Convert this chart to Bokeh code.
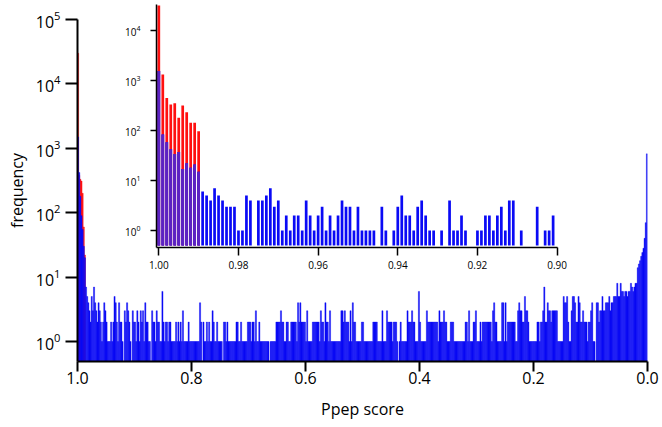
from bokeh.plotting import figure
from bokeh.models import Range1d, FixedTicker, NumeralTickFormatter
from bokeh.embed import file_html
from bokeh.resources import INLINE

# ---------------- data ----------------
# main histogram: bins of width 0.002, first bin centred at 0.999, going toward 0.0
main_bin = 0.002
main_first = 0.999
blue_k000 = [1500, 420, 180, 90, 55, 30, 20, 7, 5, 4,
             3, 2, 5, 3, 7, 4, 3, 2, 4, 3,
             2, 1, 2, 4, 3, 2, 1, 1, 1, 2,
             1, 2, 5, 4, 2, 1, 4, 2, 2, 1,
             0, 3, 2, 4, 3, 2, 1, 0, 3, 2]
blue_k050 = [2, 1, 3, 2, 1, 3, 2, 3, 1, 4,
             2, 2, 1, 1, 0, 3, 2, 2, 1, 3,
             2, 2, 1, 1, 6, 2, 1, 2, 2, 1,
             2, 2, 1, 1, 1, 1, 2, 1, 2, 1,
             2, 1, 3, 1, 1, 1, 1, 2, 1, 1]
blue_k100 = [1, 1, 1, 1, 1, 1, 1, 4, 2, 0,
             2, 1, 1, 2, 1, 2, 1, 1, 3, 2,
             1, 1, 2, 1, 1, 1, 1, 0, 2, 2,
             1, 2, 1, 1, 1, 1, 1, 1, 1, 2,
             2, 1, 1, 2, 1, 1, 1, 1, 1, 2]
blue_k150 = [2, 2, 1, 2, 2, 1, 3, 1, 1, 2,
             1, 1, 1, 1, 1, 1, 1, 1, 0, 1,
             1, 1, 1, 1, 2, 2, 2, 2, 3, 2,
             2, 1, 1, 2, 2, 1, 1, 2, 2, 2,
             2, 2, 1, 4, 2, 4, 2, 2, 2, 2]
blue_k200 = [1, 3, 1, 1, 1, 1, 2, 2, 2, 2,
             2, 2, 1, 3, 2, 2, 1, 4, 2, 2,
             1, 3, 1, 1, 1, 1, 1, 1, 1, 1,
             1, 3, 3, 2, 3, 2, 2, 2, 1, 3,
             1, 4, 2, 2, 1, 1, 1, 1, 1, 2]
blue_k250 = [2, 1, 1, 1, 1, 1, 1, 1, 1, 2,
             2, 2, 2, 1, 1, 1, 1, 3, 1, 1,
             1, 3, 2, 2, 2, 2, 1, 2, 2, 2,
             1, 0, 1, 2, 1, 1, 1, 1, 1, 3,
             2, 2, 2, 3, 2, 2, 1, 1, 1, 6]
blue_k300 = [2, 1, 1, 1, 1, 1, 3, 2, 2, 2,
             2, 2, 2, 2, 2, 2, 1, 3, 2, 2,
             2, 3, 2, 2, 1, 1, 1, 2, 2, 2,
             1, 1, 1, 1, 1, 1, 1, 1, 1, 1,
             2, 2, 1, 3, 1, 1, 1, 2, 2, 3]
blue_k350 = [1, 1, 1, 2, 1, 2, 2, 2, 2, 2,
             2, 2, 2, 1, 3, 4, 2, 2, 1, 1,
             1, 1, 4, 4, 1, 4, 1, 2, 2, 2,
             2, 2, 2, 2, 1, 1, 3, 4, 3, 3,
             2, 2, 5, 3, 3, 2, 1, 1, 1, 1]
blue_k400 = [1, 1, 1, 2, 2, 1, 2, 2, 3, 7,
             2, 2, 4, 3, 3, 2, 3, 3, 3, 3,
             3, 1, 1, 1, 1, 1, 5, 4, 4, 5,
             2, 1, 1, 3, 5, 5, 4, 2, 2, 5,
             4, 2, 2, 3, 2, 2, 2, 1, 2, 2]
blue_k450 = [3, 4, 1, 1, 0, 4, 4, 2, 3, 3,
             5, 3, 3, 4, 4, 4, 5, 3, 4, 4,
             5, 5, 5, 8, 5, 5, 8, 6, 6, 5,
             6, 6, 5, 6, 6, 8, 7, 6, 7, 8,
             8, 14, 16, 18, 21, 24, 28, 40, 70, 820]
main_blue = (blue_k000 + blue_k050 + blue_k100 + blue_k150 + blue_k200 +
             blue_k250 + blue_k300 + blue_k350 + blue_k400 + blue_k450)
main_red = [30000, 380, 330, 310, 200, 60, 22]

# inset histogram: bins of width 0.001 centred at 1.000, 0.999, ... 0.900
inset_bin = 0.001
inset_first = 1.0
inset_red = [31600, 1320, 445, 330, 350, 180, 315, 233, 143, 143, 97]
inset_blue = [1550, 83, 58, 42, 34, 37, 17, 22, 18, 21,
              15, 6, 5, 4, 7, 5, 4, 3, 3, 3,
              1, 1, 5, 4, 0, 4, 4, 5, 7, 3,
              4, 1, 2, 1, 2, 2, 1, 4, 2, 1,
              2, 3, 1, 2, 1, 2, 4, 3, 3, 1,
              3, 1, 1, 1, 1, 0, 3, 1, 0, 1,
              3, 5, 2, 2, 1, 3, 4, 2, 1, 1,
              0, 1, 0, 4, 1, 1, 2, 1, 0, 0,
              1, 1, 2, 2, 1, 2, 3, 1, 4, 4,
              0, 1, 0, 0, 0, 3, 0, 1, 1, 2,
              0]

main_xticks = [1.0, 0.8, 0.6, 0.4, 0.2, 0.0]
main_yticks = [1, 10, 100, 1000, 10000, 100000]
inset_xticks = [1.00, 0.98, 0.96, 0.94, 0.92, 0.90]
inset_yticks = [1, 10, 100, 1000, 10000]

BLUE = "#0A0AF5"
RED = "#FF1010"
PURPLE = "#5C22C2"
FONT = "Open Sans"
MAIN_BASE = 1e-3
INSET_BASE = 0.5


def bars(counts, first, step, width, base):
    left, right, top = [], [], []
    for i, c in enumerate(counts):
        if c > 0:
            centre = first - i * step
            left.append(centre + width / 2)
            right.append(centre - width / 2)
            top.append(c)
    return dict(left=left, right=right, top=top, bottom=[base] * len(top))


def style_axes(fig, lw, font_size, label_size=None):
    for ax in list(fig.xaxis) + list(fig.yaxis):
        ax.axis_line_width = lw
        ax.axis_line_color = "black"
        ax.major_tick_line_width = lw
        ax.major_tick_line_color = "black"
        ax.major_tick_in = 0
        ax.minor_tick_line_color = None
        ax.major_label_text_font = FONT
        ax.major_label_text_font_size = font_size
        ax.major_label_text_color = "black"
        if label_size:
            ax.axis_label_text_font = FONT
            ax.axis_label_text_font_size = label_size
            ax.axis_label_text_font_style = "normal"
            ax.axis_label_text_color = "black"


# ---------------- main figure ----------------
p = figure(width=662, height=427, x_range=Range1d(1.0, 0.0),
           y_range=Range1d(0.489, 1e5), y_axis_type="log",
           output_backend="svg", toolbar_location=None,
           min_border_left=77, min_border_right=15,
           min_border_top=19, min_border_bottom=66)
p.styles = {"position": "absolute", "left": "0px", "top": "0px"}
p.outline_line_color = None
p.grid.visible = False

p.quad(**bars(main_red, main_first, main_bin, main_bin, MAIN_BASE),
       fill_color=RED, line_color=RED, line_width=0.4)
p.quad(**bars(main_blue, main_first, main_bin, main_bin, MAIN_BASE),
       fill_color=BLUE, line_color=BLUE, line_width=0.4)

p.xaxis.ticker = FixedTicker(ticks=main_xticks)
p.xaxis.formatter = NumeralTickFormatter(format="0.0")
p.yaxis.ticker = FixedTicker(ticks=main_yticks)
p.xaxis.axis_label = "Ppep score"
p.yaxis.axis_label = "frequency"
style_axes(p, 2, "16px", "16px")
p.xaxis.major_tick_out = 10
p.yaxis.major_tick_out = 12
p.xaxis.major_label_standoff = 0
p.yaxis.major_label_standoff = 5
p.xaxis.axis_label_standoff = 11
p.yaxis.axis_label_standoff = 5

# ---------------- inset figure ----------------
q = figure(width=465, height=279, x_range=Range1d(1.00058, 0.8999),
           y_range=Range1d(0.457, 33100), y_axis_type="log",
           output_backend="svg", toolbar_location=None,
           min_border_left=44, min_border_right=20,
           min_border_top=4, min_border_bottom=32,
           background_fill_color=None, border_fill_color=None)
q.styles = {"position": "absolute", "left": "112px", "top": "0px"}
q.outline_line_color = None
q.grid.visible = False

inset_overlap = [min(r, b) for r, b in zip(inset_red, inset_blue)]
w = 0.00068
q.quad(**bars(inset_red, inset_first, inset_bin, w, INSET_BASE), fill_color=RED, line_color=None)
q.quad(**bars(inset_blue, inset_first, inset_bin, w, INSET_BASE), fill_color=BLUE, line_color=None)
q.quad(**bars(inset_overlap, inset_first, inset_bin, w, INSET_BASE), fill_color=PURPLE, line_color=None)

q.xaxis.ticker = FixedTicker(ticks=inset_xticks)
q.xaxis.formatter = NumeralTickFormatter(format="0.00")
q.yaxis.ticker = FixedTicker(ticks=inset_yticks)
style_axes(q, 1.5, "10px")
q.xaxis.major_tick_out = 8
q.yaxis.major_tick_out = 6
q.xaxis.major_label_standoff = 5
q.yaxis.major_label_standoff = 10

open("out.html", "w").write(file_html([p, q], INLINE))
